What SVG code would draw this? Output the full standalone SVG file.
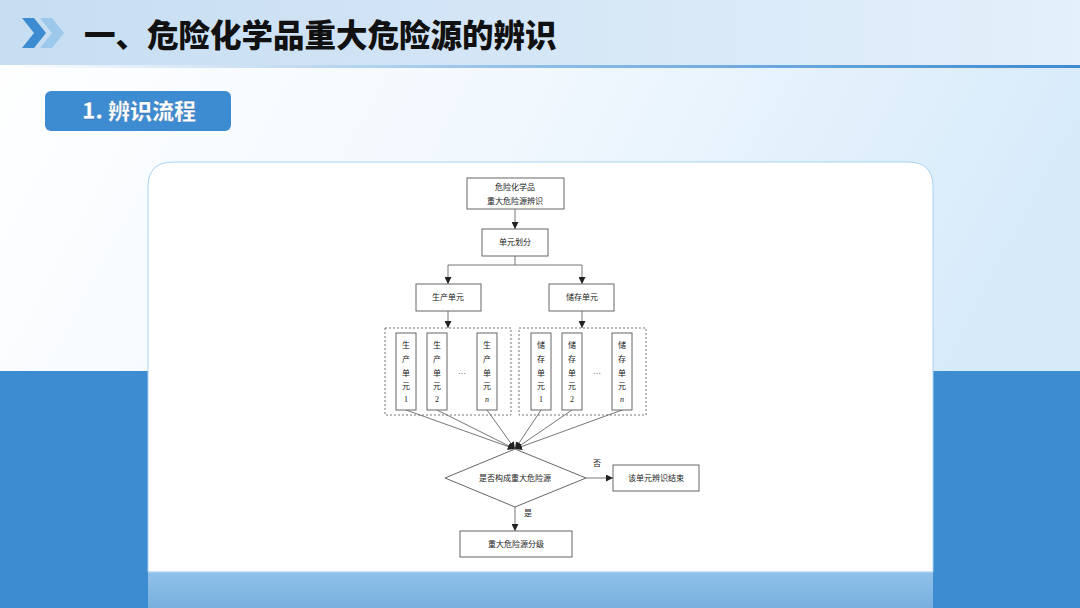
<svg xmlns="http://www.w3.org/2000/svg" width="1080" height="608" viewBox="0 0 1080 608">
<defs>
<linearGradient id="bg" x1="0" y1="0" x2="1" y2="0.3">
<stop offset="0" stop-color="#ffffff"/>
<stop offset="0.5" stop-color="#f1f8fe"/>
<stop offset="1" stop-color="#d6eafa"/>
</linearGradient>
<linearGradient id="hdr" x1="0" y1="0" x2="1" y2="0">
<stop offset="0" stop-color="#c6ddf2"/>
<stop offset="1" stop-color="#e4f0fb"/>
</linearGradient>
<linearGradient id="hline" x1="0" y1="0" x2="1" y2="0">
<stop offset="0" stop-color="#ffffff"/>
<stop offset="0.5" stop-color="#8ebde6"/>
<stop offset="1" stop-color="#3d8bd0"/>
</linearGradient>
<linearGradient id="foot" x1="0" y1="0" x2="0" y2="1">
<stop offset="0" stop-color="#90c1ea"/>
<stop offset="1" stop-color="#78b0df"/>
</linearGradient>
<marker id="arr" viewBox="0 0 10 10" refX="10" refY="5" markerWidth="7" markerHeight="7" markerUnits="userSpaceOnUse" orient="auto">
<path d="M0,0 L10,5 L0,10 z" fill="#222"/>
</marker>
<style>
.box{fill:#fff;stroke:#666;stroke-width:1}
.ln{fill:none;stroke:#666;stroke-width:0.9}
.t{font-family:"Noto Sans CJK SC","Liberation Serif",serif;font-size:8px;fill:#222;text-anchor:middle}
.tn{font-family:"Liberation Serif",serif;font-size:8px;fill:#222;text-anchor:middle}
.dash{fill:none;stroke:#666;stroke-width:0.9;stroke-dasharray:2,2}
</style>
</defs>
<rect x="0" y="0" width="1080" height="608" fill="url(#bg)"/>
<rect x="0" y="371" width="1080" height="237" fill="#3d8bd0"/>
<g id="header">
<rect x="0" y="0" width="1080" height="65" fill="url(#hdr)"/>
<rect x="0" y="65" width="1080" height="3" fill="url(#hline)"/>
<path d="M22,18 L34,18 L46,33 L34,48 L22,48 L34,33 z" fill="#3d8bd0"/>
<path d="M40,18 L52,18 L64,33 L52,48 L40,48 L52,33 z" fill="#9cc8ec"/>
<text x="84" y="47" font-family="'Noto Sans CJK SC',sans-serif" font-weight="900" font-size="31.5" fill="#111">一、危险化学品重大危险源的辨识</text>
</g>
<g id="subtitle">
<rect x="45" y="91" width="186" height="40" rx="6" fill="#3d8bd0"/>
<text x="139" y="119" text-anchor="middle" font-family="'Noto Sans CJK SC',sans-serif" font-weight="900" font-size="22" fill="#fff" stroke="#2a6aa8" stroke-width="0.3">1. 辨识流程</text>
</g>
<g id="card">
<path d="M148,572 L148,187 Q148,162 173,162 L908,162 Q933,162 933,187 L933,572 z" fill="#fff" stroke="#a9d3f1" stroke-width="1"/>
<rect x="148" y="572" width="785" height="36" fill="url(#foot)"/>
<line x1="148" y1="572" x2="933" y2="572" stroke="#b9dbf5" stroke-width="1"/>
</g>
<g id="connectors">
<line class="ln" x1="515" y1="209" x2="515" y2="229" marker-end="url(#arr)"/>
<polyline class="ln" points="515,256 515,265 448,265 448,284" marker-end="url(#arr)"/>
<polyline class="ln" points="515,265 582,265 582,284" marker-end="url(#arr)"/>
<line class="ln" x1="448" y1="311" x2="448" y2="328" marker-end="url(#arr)"/>
<line class="ln" x1="582" y1="311" x2="582" y2="328" marker-end="url(#arr)"/>
<line class="ln" x1="406" y1="410" x2="515" y2="449" marker-end="url(#arr)"/>
<line class="ln" x1="437" y1="410" x2="515" y2="449" marker-end="url(#arr)"/>
<line class="ln" x1="487" y1="410" x2="515" y2="449" marker-end="url(#arr)"/>
<line class="ln" x1="541" y1="410" x2="515" y2="449" marker-end="url(#arr)"/>
<line class="ln" x1="572" y1="410" x2="515" y2="449" marker-end="url(#arr)"/>
<line class="ln" x1="622" y1="410" x2="515" y2="449" marker-end="url(#arr)"/>
<line class="ln" x1="586" y1="478" x2="613" y2="478" marker-end="url(#arr)"/>
<line class="ln" x1="515" y1="507" x2="515" y2="531" marker-end="url(#arr)"/>
<text class="t" x="597" y="466">否</text>
<text class="t" x="528" y="516">是</text>
</g>
<g id="n-start">
<rect class="box" x="467" y="178" width="97" height="31"/>
<text class="t" x="515" y="190">危险化学品</text>
<text class="t" x="515" y="204">重大危险源辨识</text>
</g>
<g id="n-divide">
<rect class="box" x="482" y="229" width="66" height="27"/>
<text class="t" x="515" y="245">单元划分</text>
</g>
<g id="n-prod">
<rect class="box" x="416" y="284" width="65" height="27"/>
<text class="t" x="448" y="300">生产单元</text>
</g>
<g id="n-stor">
<rect class="box" x="549" y="284" width="65" height="27"/>
<text class="t" x="582" y="300">储存单元</text>
</g>
<g id="g-prod">
<rect class="dash" x="385" y="328" width="126" height="87"/>
<rect class="box" x="396" y="333" width="20" height="77"/>
<text class="t" x="406" y="348">生</text><text class="t" x="406" y="362">产</text><text class="t" x="406" y="376">单</text><text class="t" x="406" y="389">元</text><text class="tn" x="406" y="402">1</text>
<rect class="box" x="427" y="333" width="20" height="77"/>
<text class="t" x="437" y="348">生</text><text class="t" x="437" y="362">产</text><text class="t" x="437" y="376">单</text><text class="t" x="437" y="389">元</text><text class="tn" x="437" y="402">2</text>
<text class="tn" x="462" y="374">…</text>
<rect class="box" x="477" y="333" width="20" height="77"/>
<text class="t" x="487" y="348">生</text><text class="t" x="487" y="362">产</text><text class="t" x="487" y="376">单</text><text class="t" x="487" y="389">元</text><text class="tn" x="487" y="402" font-style="italic">n</text>
</g>
<g id="g-stor">
<rect class="dash" x="519" y="328" width="127" height="87"/>
<rect class="box" x="531" y="333" width="20" height="77"/>
<text class="t" x="541" y="348">储</text><text class="t" x="541" y="362">存</text><text class="t" x="541" y="376">单</text><text class="t" x="541" y="389">元</text><text class="tn" x="541" y="402">1</text>
<rect class="box" x="562" y="333" width="20" height="77"/>
<text class="t" x="572" y="348">储</text><text class="t" x="572" y="362">存</text><text class="t" x="572" y="376">单</text><text class="t" x="572" y="389">元</text><text class="tn" x="572" y="402">2</text>
<text class="tn" x="597" y="374">…</text>
<rect class="box" x="612" y="333" width="20" height="77"/>
<text class="t" x="622" y="348">储</text><text class="t" x="622" y="362">存</text><text class="t" x="622" y="376">单</text><text class="t" x="622" y="389">元</text><text class="tn" x="622" y="402" font-style="italic">n</text>
</g>
<g id="n-decide">
<polygon class="box" points="515,449 586,478 515,507 445,478"/>
<text class="t" x="515" y="481">是否构成重大危险源</text>
</g>
<g id="n-end">
<rect class="box" x="613" y="465" width="86" height="26"/>
<text class="t" x="656" y="481">该单元辨识结束</text>
</g>
<g id="n-grade">
<rect class="box" x="460" y="531" width="112" height="26"/>
<text class="t" x="516" y="547">重大危险源分级</text>
</g>
</svg>
